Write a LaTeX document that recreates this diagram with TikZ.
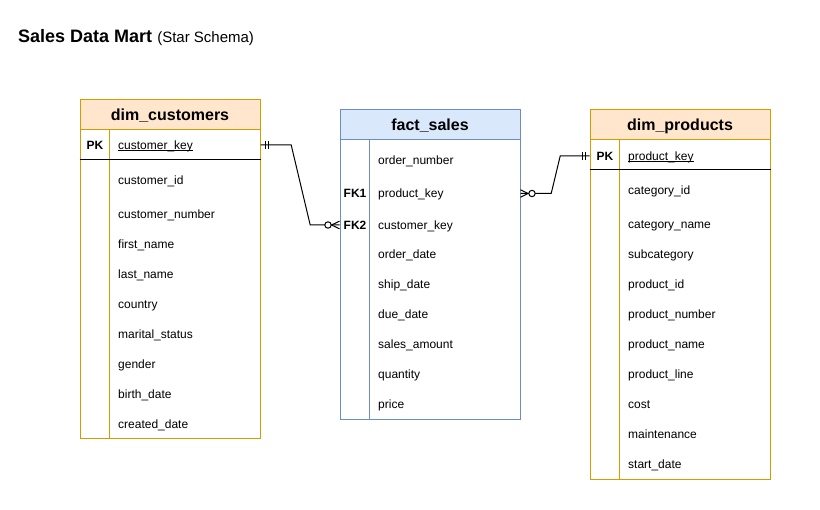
\documentclass[tikz,border=0pt]{standalone}
\usepackage{fontspec}
\setmainfont{Liberation Sans}
\usetikzlibrary{calc}
\definecolor{orS}{HTML}{D79B00}
\definecolor{orF}{HTML}{FFE6CC}
\definecolor{blS}{HTML}{6C8EBF}
\definecolor{blF}{HTML}{DAE8FC}
\newcommand\keyul[1]{\setbox0\hbox{#1}\rlap{\rule[-1.8pt]{\wd0}{0.8pt}}\box0}
\begin{document}
\begin{tikzpicture}[x=1pt,y=-1pt,
  hdr/.style={draw, line width=1pt, minimum width=180pt, minimum height=30pt, inner sep=0pt, text height=11.5pt, text depth=0pt, font=\bfseries\fontsize{16}{19}\selectfont},
  tbody/.style={draw, line width=1pt, minimum width=180pt, inner sep=0pt, fill=white},
  fld/.style={anchor=west, inner sep=0pt, text height=9.5pt, text depth=0.5pt, font=\fontsize{12}{14}\selectfont},
  keylbl/.style={anchor=center, inner sep=0pt, text height=9.5pt, text depth=0.5pt, font=\bfseries\fontsize{12}{14}\selectfont},
  er/.style={draw=black, line width=1pt},
  sep/.style={draw=black, line width=1pt},
]
\useasboundingbox (0,0) rectangle (820,510);

% title
\node[anchor=base west, inner sep=0pt] (title) at (18,42.5)
  {\bfseries\fontsize{18}{21}\selectfont Sales Data Mart \mdseries\fontsize{15}{18}\selectfont (Star Schema)};

% ---------- dim_customers ----------
\node[tbody, draw=orS, minimum height=309pt] (cust-b) at (170,284.5) {};
\node[hdr, draw=orS, fill=orF] (cust-h) at (170,115) {dim\_customers};
\draw[orS, line width=1pt] ($(cust-b.north west)+(30,0)$) -- ($(cust-b.south west)+(30,0)$);
\draw[sep] ($(cust-b.north west)+(0,30)$) -- ($(cust-b.north east)+(0,30)$);
\node[keylbl] (c-pk) at (95,145) {PK};
\node[fld] (c-key) at (118,145) {\keyul{customer\_key}};
\node[fld] (c-id) at (118,180) {customer\_id};
\node[fld] (c-num) at (118,214) {customer\_number};
\node[fld] (c-fn) at (118,244) {first\_name};
\node[fld] (c-ln) at (118,274) {last\_name};
\node[fld] (c-co) at (118,304) {country};
\node[fld] (c-ms) at (118,334) {marital\_status};
\node[fld] (c-ge) at (118,364) {gender};
\node[fld] (c-bd) at (118,394) {birth\_date};
\node[fld] (c-cd) at (118,424) {created\_date};

% ---------- fact_sales ----------
\node[tbody, draw=blS, minimum height=280pt] (fact-b) at (430,280) {};
\node[hdr, draw=blS, fill=blF] (fact-h) at (430,125) {fact\_sales};
\draw[blS, line width=1pt] ($(fact-b.north west)+(30,0)$) -- ($(fact-b.south west)+(30,0)$);
\node[fld] (f-on) at (378,160) {order\_number};
\node[keylbl] (f-fk1) at (355,193.5) {FK1};
\node[fld] (f-pkey) at (378,193.5) {product\_key};
\node[keylbl] (f-fk2) at (355,225) {FK2};
\node[fld] (f-ckey) at (378,225) {customer\_key};
\node[fld] (f-od) at (378,254.5) {order\_date};
\node[fld] (f-sd) at (378,284.5) {ship\_date};
\node[fld] (f-dd) at (378,314.5) {due\_date};
\node[fld] (f-sa) at (378,344.5) {sales\_amount};
\node[fld] (f-qu) at (378,374.5) {quantity};
\node[fld] (f-pr) at (378,404.5) {price};

% ---------- dim_products ----------
\node[tbody, draw=orS, minimum height=340pt] (prod-b) at (680,310) {};
\node[hdr, draw=orS, fill=orF] (prod-h) at (680,125) {dim\_products};
\draw[orS, line width=1pt] ($(prod-b.north west)+(30,0)$) -- ($(prod-b.south west)+(30,0)$);
\draw[sep] ($(prod-b.north west)+(0,30)$) -- ($(prod-b.north east)+(0,30)$);
\node[keylbl] (p-pk) at (605,156) {PK};
\node[fld] (p-key) at (628,156) {\keyul{product\_key}};
\node[fld] (p-cid) at (628,190) {category\_id};
\node[fld] (p-cn) at (628,224) {category\_name};
\node[fld] (p-sc) at (628,254) {subcategory};
\node[fld] (p-id) at (628,284) {product\_id};
\node[fld] (p-num) at (628,314) {product\_number};
\node[fld] (p-nm) at (628,344) {product\_name};
\node[fld] (p-ln) at (628,374) {product\_line};
\node[fld] (p-co) at (628,404) {cost};
\node[fld] (p-mt) at (628,434) {maintenance};
\node[fld] (p-sd) at (628,464) {start\_date};

% ---------- connector: customers -> fact ----------
\coordinate (c1s) at (cust-b.east |- c-key);
\coordinate (c1e) at (fact-b.west |- f-ckey);
\draw[er] (c1s) -- ++(30.7,0) -- ($(c1e)+(-29.3,0)$) -- (c1e);
\draw[er] ($(c1s)+(5,-4)$) -- ++(0,8);
\draw[er] ($(c1s)+(8,-4)$) -- ++(0,8);
\draw[er] ($(c1e)+(-8,0)$) -- ($(c1e)+(0,-3.8)$);
\draw[er] ($(c1e)+(-8,0)$) -- ($(c1e)+(0,3.8)$);
\draw[er, fill=white] ($(c1e)+(-11.5,0)$) circle (3.2pt);

% ---------- connector: fact -> products ----------
\coordinate (c2s) at (fact-b.east |- f-pkey);
\coordinate (c2e) at (prod-b.west |- p-key);
\draw[er] (c2s) -- ++(30.7,0) -- ($(c2e)+(-29.3,0)$) -- (c2e);
\draw[er] ($(c2s)+(7.5,0)$) -- ($(c2s)+(0,-3.8)$);
\draw[er] ($(c2s)+(7.5,0)$) -- ($(c2s)+(0,3.8)$);
\draw[er, fill=white] ($(c2s)+(11.5,0)$) circle (3.2pt);
\draw[er] ($(c2e)+(-7.5,-4)$) -- ++(0,8);
\draw[er] ($(c2e)+(-4.5,-4)$) -- ++(0,8);
\end{tikzpicture}
\end{document}
